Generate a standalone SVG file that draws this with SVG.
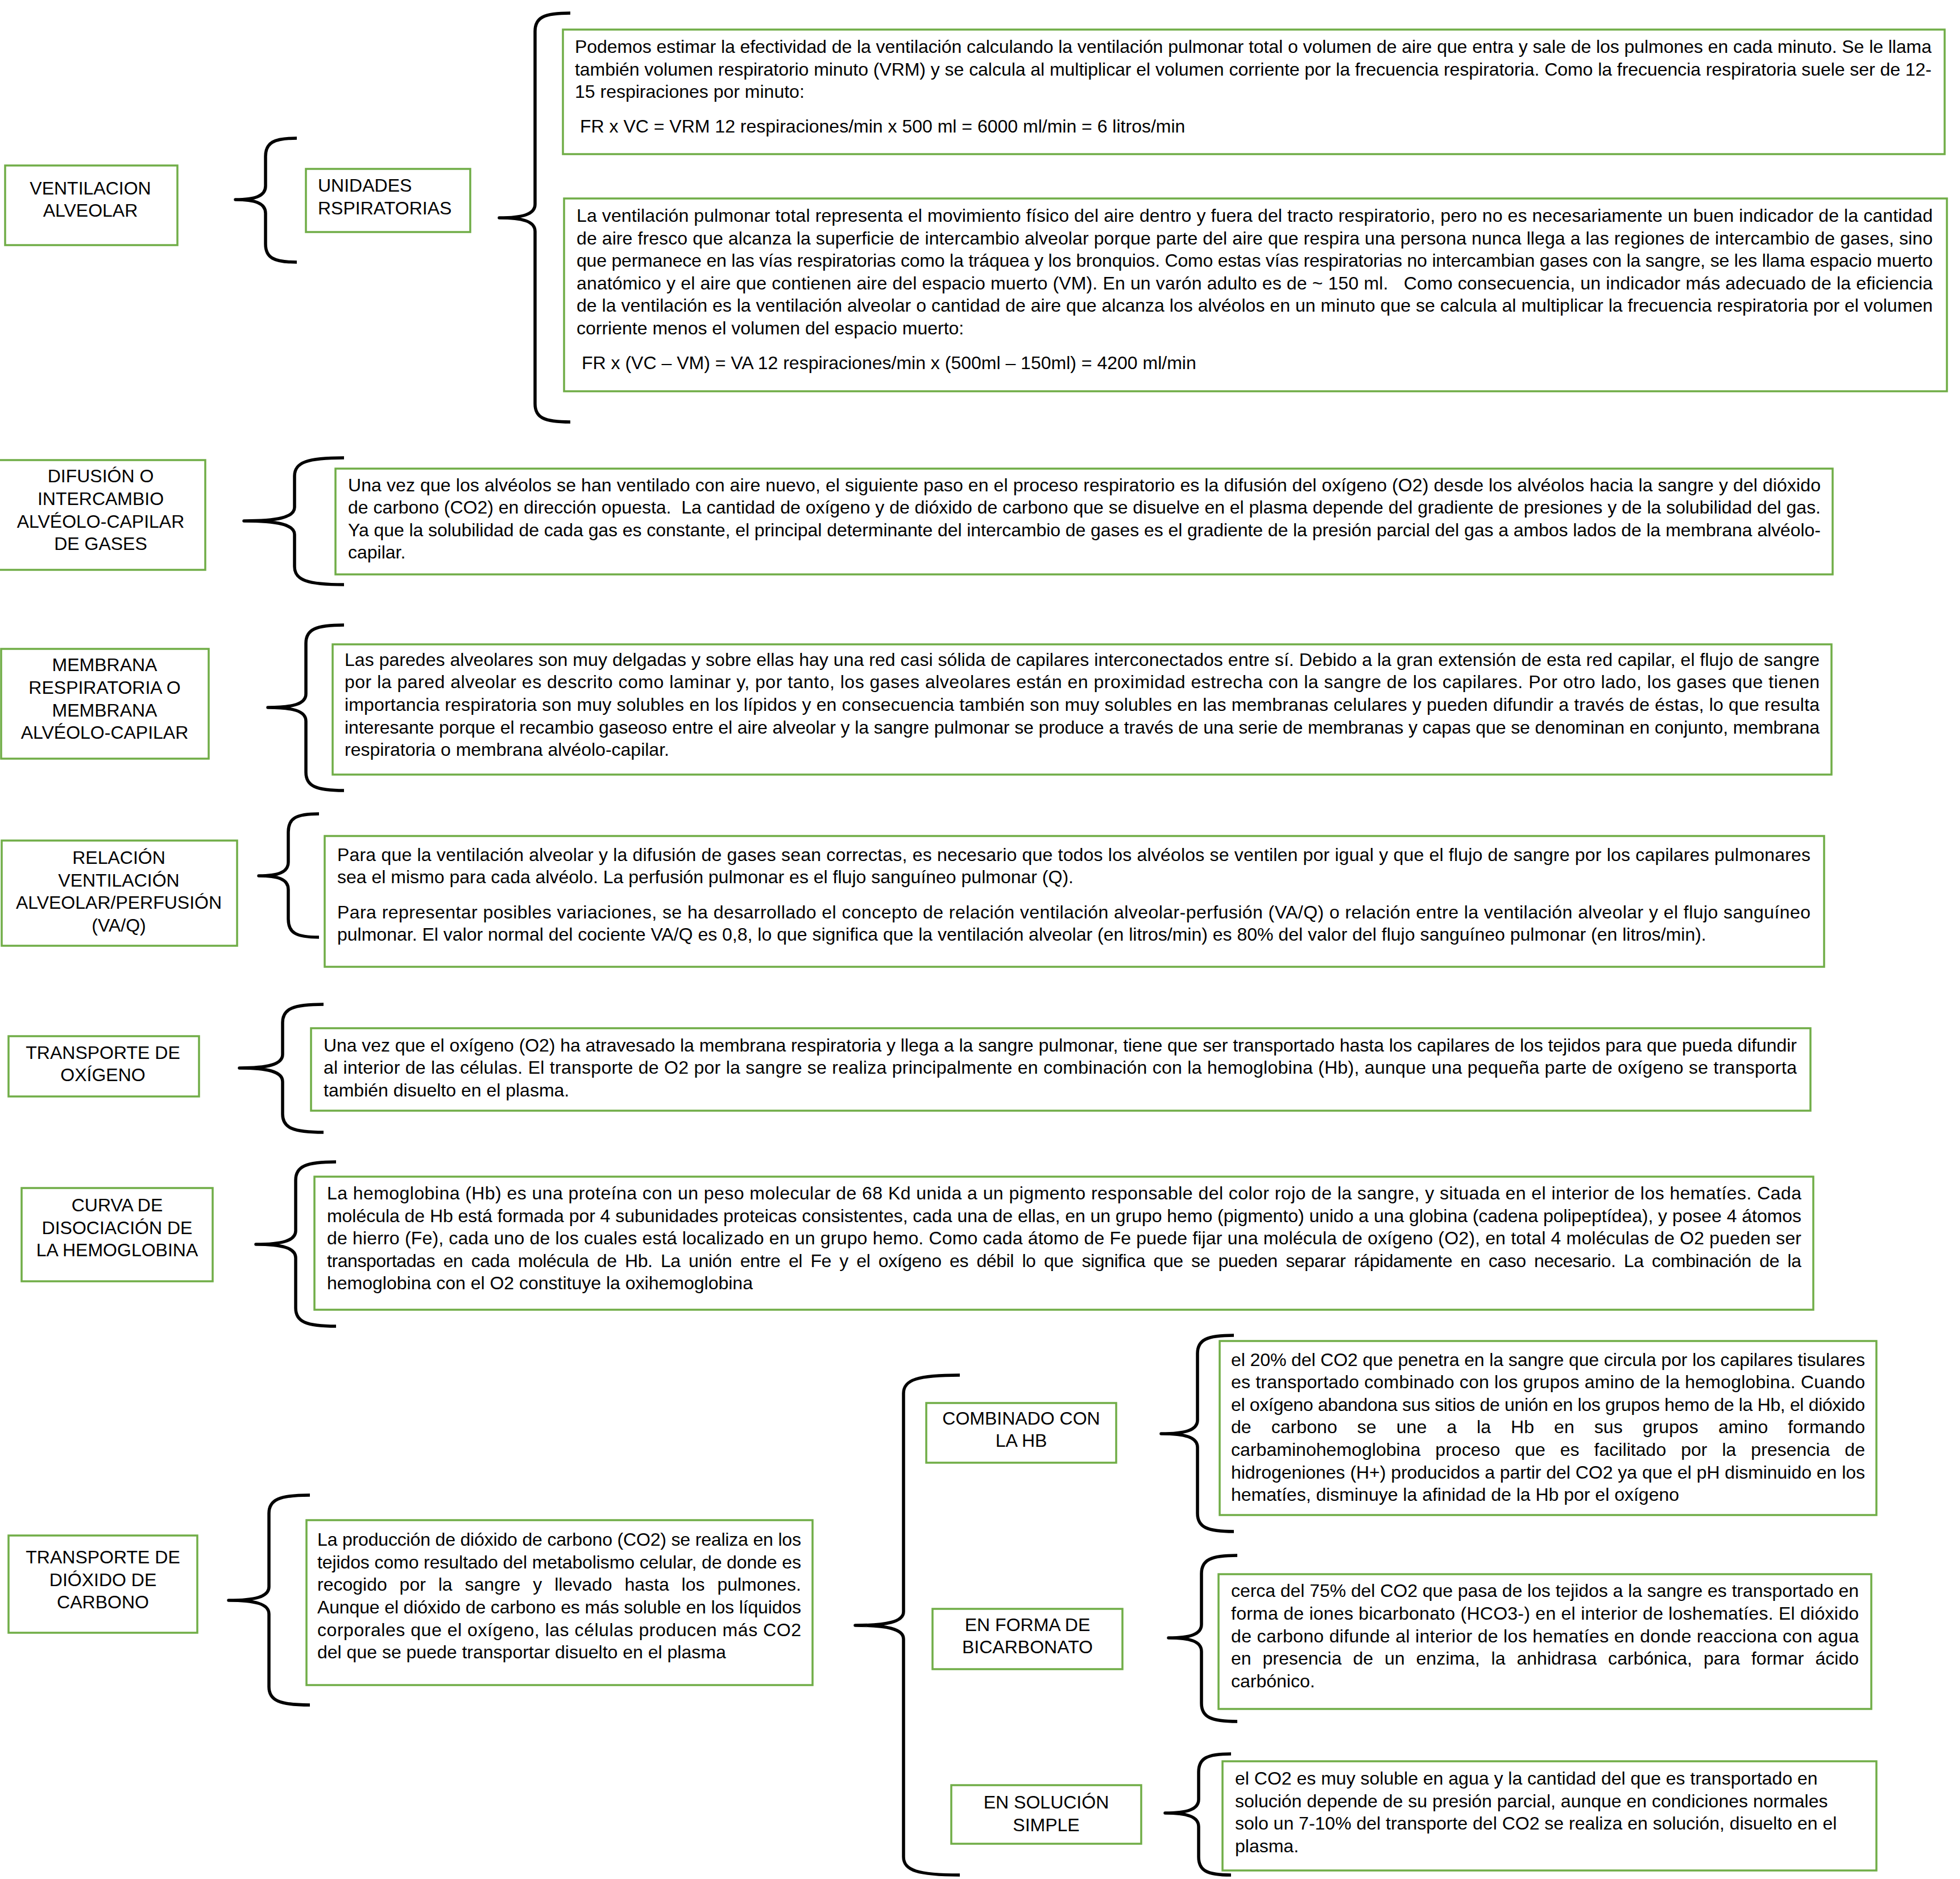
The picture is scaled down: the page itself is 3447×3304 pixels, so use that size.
<svg xmlns="http://www.w3.org/2000/svg" width="3447" height="3304" viewBox="0 0 3447 3304">
<style>
.bg{fill:#ffffff}
.box{fill:#ffffff;stroke:#70AD47;stroke-width:3.5}
.t{font-family:"Liberation Sans",Arial,Helvetica,sans-serif;font-size:32px;fill:#000000}
.c{text-anchor:middle}
.brace{fill:none;stroke:#000000;stroke-width:5.5;stroke-linecap:butt;stroke-linejoin:round}
</style>
<rect class="bg" x="0" y="0" width="3447" height="3304"/>

<g id="connectors">
<path class="brace" d="M522,243 C481,243 467,251 467,275 L467,327 C467,345 448,351 414,351 C448,351 467,357 467,375 L467,429 C467,453 481,461 522,461"/>
<path class="brace" d="M1003,23 C956,23 941,31 941,55 L941,359 C941,377 919,383 878,383 C919,383 941,389 941,407 L941,710 C941,734 956,742 1003,742"/>
<path class="brace" d="M605,805 C540,805 518,813 518,837 L518,892 C518,910 487,916 429,916 C487,916 518,922 518,940 L518,996 C518,1020 540,1028 605,1028"/>
<path class="brace" d="M605,1099 C555,1099 538,1107 538,1131 L538,1220 C538,1238 515,1244 471,1244 C515,1244 538,1250 538,1268 L538,1358 C538,1382 555,1390 605,1390"/>
<path class="brace" d="M561,1431 C520,1431 507,1439 507,1463 L507,1516 C507,1534 489,1540 455,1540 C489,1540 507,1546 507,1564 L507,1616 C507,1640 520,1648 561,1648"/>
<path class="brace" d="M569,1766 C515,1766 497,1774 497,1798 L497,1854 C497,1872 470,1878 421,1878 C470,1878 497,1884 497,1902 L497,1959 C497,1983 515,1991 569,1991"/>
<path class="brace" d="M591,2043 C538,2043 520,2051 520,2075 L520,2164 C520,2182 495,2188 450,2188 C495,2188 520,2194 520,2212 L520,2300 C520,2324 538,2332 591,2332"/>
<path class="brace" d="M545,2629 C491,2629 473,2637 473,2661 L473,2790 C473,2808 448,2814 402,2814 C448,2814 473,2820 473,2838 L473,2966 C473,2990 491,2998 545,2998"/>
<path class="brace" d="M1688,2418 C1614,2418 1589,2426 1589,2450 L1589,2834 C1589,2852 1559,2858 1504,2858 C1559,2858 1589,2864 1589,2882 L1589,3265 C1589,3289 1614,3297 1688,3297"/>
<path class="brace" d="M2170,2348 C2122,2348 2106,2356 2106,2380 L2106,2497 C2106,2515 2084,2521 2042,2521 C2084,2521 2106,2527 2106,2545 L2106,2661 C2106,2685 2122,2693 2170,2693"/>
<path class="brace" d="M2176,2735 C2129,2735 2113,2743 2113,2767 L2113,2856 C2113,2874 2093,2880 2055,2880 C2093,2880 2113,2886 2113,2904 L2113,2995 C2113,3019 2129,3027 2176,3027"/>
<path class="brace" d="M2165,3084 C2122,3084 2108,3092 2108,3116 L2108,3164 C2108,3182 2087,3188 2049,3188 C2087,3188 2108,3194 2108,3212 L2108,3265 C2108,3289 2122,3297 2165,3297"/>
</g>

<g id="ventilacion-alveolar">
<rect class="box" x="9" y="291" width="303" height="140"/>
<text class="t c" x="159" y="342">VENTILACION</text>
<text class="t c" x="159" y="381">ALVEOLAR</text>
</g>

<g id="unidades-respiratorias">
<rect class="box" x="538" y="297" width="289" height="111"/>
<text class="t" x="559" y="337">UNIDADES</text>
<text class="t" x="559" y="377">RSPIRATORIAS</text>
</g>

<g id="texto-vrm">
<rect class="box" x="990" y="52" width="2430" height="219"/>
<text class="t" x="1011" y="93" textLength="2386" lengthAdjust="spacing">Podemos estimar la efectividad de la ventilación calculando la ventilación pulmonar total o volumen de aire que entra y sale de los pulmones en cada minuto. Se le llama</text>
<text class="t" x="1011" y="133" textLength="2386" lengthAdjust="spacing">también volumen respiratorio minuto (VRM) y se calcula al multiplicar el volumen corriente por la frecuencia respiratoria. Como la frecuencia respiratoria suele ser de 12-</text>
<text class="t" x="1011" y="172">15 respiraciones por minuto:</text>
<text class="t" x="1020" y="233">FR x VC = VRM 12 respiraciones/min x 500 ml = 6000 ml/min = 6 litros/min</text>
</g>

<g id="texto-va">
<rect class="box" x="992" y="349" width="2432" height="339"/>
<text class="t" x="1014" y="390" textLength="2385" lengthAdjust="spacing">La ventilación pulmonar total representa el movimiento físico del aire dentro y fuera del tracto respiratorio, pero no es necesariamente un buen indicador de la cantidad</text>
<text class="t" x="1014" y="430" textLength="2385" lengthAdjust="spacing">de aire fresco que alcanza la superficie de intercambio alveolar porque parte del aire que respira una persona nunca llega a las regiones de intercambio de gases, sino</text>
<text class="t" x="1014" y="469" textLength="2385" lengthAdjust="spacing">que permanece en las vías respiratorias como la tráquea y los bronquios. Como estas vías respiratorias no intercambian gases con la sangre, se les llama espacio muerto</text>
<text class="t" x="1014" y="509" textLength="2385" lengthAdjust="spacing" xml:space="preserve">anatómico y el aire que contienen aire del espacio muerto (VM). En un varón adulto es de ~ 150 ml.   Como consecuencia, un indicador más adecuado de la eficiencia</text>
<text class="t" x="1014" y="548" textLength="2385" lengthAdjust="spacing">de la ventilación es la ventilación alveolar o cantidad de aire que alcanza los alvéolos en un minuto que se calcula al multiplicar la frecuencia respiratoria por el volumen</text>
<text class="t" x="1014" y="588">corriente menos el volumen del espacio muerto:</text>
<text class="t" x="1023" y="649">FR x (VC – VM) = VA 12 respiraciones/min x (500ml – 150ml) = 4200 ml/min</text>
</g>

<g id="difusion">
<rect class="box" x="-4" y="809" width="365" height="193"/>
<text class="t c" x="177" y="848">DIFUSIÓN O</text>
<text class="t c" x="177" y="888">INTERCAMBIO</text>
<text class="t c" x="177" y="928">ALVÉOLO-CAPILAR</text>
<text class="t c" x="177" y="967">DE GASES</text>
</g>

<g id="texto-difusion">
<rect class="box" x="590" y="824" width="2633" height="186"/>
<text class="t" x="612" y="864" textLength="2590" lengthAdjust="spacing">Una vez que los alvéolos se han ventilado con aire nuevo, el siguiente paso en el proceso respiratorio es la difusión del oxígeno (O2) desde los alvéolos hacia la sangre y del dióxido</text>
<text class="t" x="612" y="903" textLength="2590" lengthAdjust="spacing" xml:space="preserve">de carbono (CO2) en dirección opuesta.  La cantidad de oxígeno y de dióxido de carbono que se disuelve en el plasma depende del gradiente de presiones y de la solubilidad del gas.</text>
<text class="t" x="612" y="943" textLength="2590" lengthAdjust="spacing">Ya que la solubilidad de cada gas es constante, el principal determinante del intercambio de gases es el gradiente de la presión parcial del gas a ambos lados de la membrana alvéolo-</text>
<text class="t" x="612" y="982">capilar.</text>
</g>

<g id="membrana">
<rect class="box" x="2" y="1141" width="365" height="193"/>
<text class="t c" x="184" y="1180">MEMBRANA</text>
<text class="t c" x="184" y="1220">RESPIRATORIA O</text>
<text class="t c" x="184" y="1260">MEMBRANA</text>
<text class="t c" x="184" y="1299">ALVÉOLO-CAPILAR</text>
</g>

<g id="texto-membrana">
<rect class="box" x="585" y="1133" width="2636" height="229"/>
<text class="t" x="606" y="1171" textLength="2594" lengthAdjust="spacing">Las paredes alveolares son muy delgadas y sobre ellas hay una red casi sólida de capilares interconectados entre sí. Debido a la gran extensión de esta red capilar, el flujo de sangre</text>
<text class="t" x="606" y="1210" textLength="2594" lengthAdjust="spacing">por la pared alveolar es descrito como laminar y, por tanto, los gases alveolares están en proximidad estrecha con la sangre de los capilares. Por otro lado, los gases que tienen</text>
<text class="t" x="606" y="1250" textLength="2594" lengthAdjust="spacing">importancia respiratoria son muy solubles en los lípidos y en consecuencia también son muy solubles en las membranas celulares y pueden difundir a través de éstas, lo que resulta</text>
<text class="t" x="606" y="1290" textLength="2594" lengthAdjust="spacing">interesante porque el recambio gaseoso entre el aire alveolar y la sangre pulmonar se produce a través de una serie de membranas y capas que se denominan en conjunto, membrana</text>
<text class="t" x="606" y="1329">respiratoria o membrana alvéolo-capilar.</text>
</g>

<g id="relacion-vaq">
<rect class="box" x="3" y="1478" width="414" height="185"/>
<text class="t c" x="209" y="1519">RELACIÓN</text>
<text class="t c" x="209" y="1559">VENTILACIÓN</text>
<text class="t c" x="209" y="1598">ALVEOLAR/PERFUSIÓN</text>
<text class="t c" x="209" y="1638">(VA/Q)</text>
</g>

<g id="texto-relacion">
<rect class="box" x="571" y="1470" width="2637" height="230"/>
<text class="t" x="593" y="1514" textLength="2591" lengthAdjust="spacing">Para que la ventilación alveolar y la difusión de gases sean correctas, es necesario que todos los alvéolos se ventilen por igual y que el flujo de sangre por los capilares pulmonares</text>
<text class="t" x="593" y="1553">sea el mismo para cada alvéolo. La perfusión pulmonar es el flujo sanguíneo pulmonar (Q).</text>
<text class="t" x="593" y="1615" textLength="2591" lengthAdjust="spacing">Para representar posibles variaciones, se ha desarrollado el concepto de relación ventilación alveolar-perfusión (VA/Q) o relación entre la ventilación alveolar y el flujo sanguíneo</text>
<text class="t" x="593" y="1654">pulmonar. El valor normal del cociente VA/Q es 0,8, lo que significa que la ventilación alveolar (en litros/min) es 80% del valor del flujo sanguíneo pulmonar (en litros/min).</text>
</g>

<g id="transporte-oxigeno">
<rect class="box" x="15" y="1822" width="335" height="106"/>
<text class="t c" x="181" y="1862">TRANSPORTE DE</text>
<text class="t c" x="181" y="1901">OXÍGENO</text>
</g>

<g id="texto-oxigeno">
<rect class="box" x="547" y="1808" width="2637" height="145"/>
<text class="t" x="569" y="1849" textLength="2591" lengthAdjust="spacing">Una vez que el oxígeno (O2) ha atravesado la membrana respiratoria y llega a la sangre pulmonar, tiene que ser transportado hasta los capilares de los tejidos para que pueda difundir</text>
<text class="t" x="569" y="1888" textLength="2591" lengthAdjust="spacing">al interior de las células. El transporte de O2 por la sangre se realiza principalmente en combinación con la hemoglobina (Hb), aunque una pequeña parte de oxígeno se transporta</text>
<text class="t" x="569" y="1928">también disuelto en el plasma.</text>
</g>

<g id="curva-disociacion">
<rect class="box" x="38" y="2089" width="336" height="164"/>
<text class="t c" x="206" y="2130">CURVA DE</text>
<text class="t c" x="206" y="2170">DISOCIACIÓN DE</text>
<text class="t c" x="206" y="2209">LA HEMOGLOBINA</text>
</g>

<g id="texto-hemoglobina">
<rect class="box" x="553" y="2069" width="2636" height="234"/>
<text class="t" x="575" y="2109" textLength="2593" lengthAdjust="spacing">La hemoglobina (Hb) es una proteína con un peso molecular de 68 Kd unida a un pigmento responsable del color rojo de la sangre, y situada en el interior de los hematíes. Cada</text>
<text class="t" x="575" y="2149" textLength="2593" lengthAdjust="spacing">molécula de Hb está formada por 4 subunidades proteicas consistentes, cada una de ellas, en un grupo hemo (pigmento) unido a una globina (cadena polipeptídea), y posee 4 átomos</text>
<text class="t" x="575" y="2188" textLength="2593" lengthAdjust="spacing">de hierro (Fe), cada uno de los cuales está localizado en un grupo hemo. Como cada átomo de Fe puede fijar una molécula de oxígeno (O2), en total 4 moléculas de O2 pueden ser</text>
<text class="t" x="575" y="2228" textLength="2593" lengthAdjust="spacing" word-spacing="6">transportadas en cada molécula de Hb. La unión entre el Fe y el oxígeno es débil lo que significa que se pueden separar rápidamente en caso necesario. La combinación de la</text>
<text class="t" x="575" y="2267">hemoglobina con el O2 constituye la oxihemoglobina</text>
</g>

<g id="transporte-co2">
<rect class="box" x="15" y="2700" width="332" height="171"/>
<text class="t c" x="181" y="2749">TRANSPORTE DE</text>
<text class="t c" x="181" y="2789">DIÓXIDO DE</text>
<text class="t c" x="181" y="2828">CARBONO</text>
</g>

<g id="texto-co2">
<rect class="box" x="539" y="2673" width="890" height="290"/>
<text class="t" x="558" y="2718" textLength="851" lengthAdjust="spacing">La producción de dióxido de carbono (CO2) se realiza en los</text>
<text class="t" x="558" y="2758" textLength="851" lengthAdjust="spacing">tejidos como resultado del metabolismo celular, de donde es</text>
<text class="t" x="558" y="2797" textLength="851" lengthAdjust="spacing" word-spacing="13">recogido por la sangre y llevado hasta los pulmones.</text>
<text class="t" x="558" y="2837" textLength="851" lengthAdjust="spacing">Aunque el dióxido de carbono es más soluble en los líquidos</text>
<text class="t" x="558" y="2877" textLength="851" lengthAdjust="spacing">corporales que el oxígeno, las células producen más CO2</text>
<text class="t" x="558" y="2916">del que se puede transportar disuelto en el plasma</text>
</g>

<g id="combinado-hb">
<rect class="box" x="1629" y="2467" width="334" height="105"/>
<text class="t c" x="1796" y="2505">COMBINADO CON</text>
<text class="t c" x="1796" y="2544">LA HB</text>
</g>

<g id="texto-combinado">
<rect class="box" x="2145" y="2358" width="1155" height="306"/>
<text class="t" x="2165" y="2402" textLength="1115" lengthAdjust="spacing">el 20% del CO2 que penetra en la sangre que circula por los capilares tisulares</text>
<text class="t" x="2165" y="2441" textLength="1115" lengthAdjust="spacing">es transportado combinado con los grupos amino de la hemoglobina. Cuando</text>
<text class="t" x="2165" y="2481" textLength="1115" lengthAdjust="spacing">el oxígeno abandona sus sitios de unión en los grupos hemo de la Hb, el dióxido</text>
<text class="t" x="2165" y="2520" textLength="1115" lengthAdjust="spacing" word-spacing="26">de carbono se une a la Hb en sus grupos amino formando</text>
<text class="t" x="2165" y="2560" textLength="1115" lengthAdjust="spacing" word-spacing="17">carbaminohemoglobina proceso que es facilitado por la presencia de</text>
<text class="t" x="2165" y="2600" textLength="1115" lengthAdjust="spacing">hidrogeniones (H+) producidos a partir del CO2 ya que el pH disminuido en los</text>
<text class="t" x="2165" y="2639">hematíes, disminuye la afinidad de la Hb por el oxígeno</text>
</g>

<g id="bicarbonato">
<rect class="box" x="1640" y="2829" width="334" height="106"/>
<text class="t c" x="1807" y="2868">EN FORMA DE</text>
<text class="t c" x="1807" y="2907">BICARBONATO</text>
</g>

<g id="texto-bicarbonato">
<rect class="box" x="2143" y="2768" width="1148" height="237"/>
<text class="t" x="2165" y="2808" textLength="1104" lengthAdjust="spacing">cerca del 75% del CO2 que pasa de los tejidos a la sangre es transportado en</text>
<text class="t" x="2165" y="2848" textLength="1104" lengthAdjust="spacing">forma de iones bicarbonato (HCO3-) en el interior de loshematíes. El dióxido</text>
<text class="t" x="2165" y="2888" textLength="1104" lengthAdjust="spacing">de carbono difunde al interior de los hematíes en donde reacciona con agua</text>
<text class="t" x="2165" y="2927" textLength="1104" lengthAdjust="spacing" word-spacing="11">en presencia de un enzima, la anhidrasa carbónica, para formar ácido</text>
<text class="t" x="2165" y="2967">carbónico.</text>
</g>

<g id="solucion-simple">
<rect class="box" x="1673" y="3139" width="334" height="103"/>
<text class="t c" x="1840" y="3180">EN SOLUCIÓN</text>
<text class="t c" x="1840" y="3220">SIMPLE</text>
</g>

<g id="texto-solucion">
<rect class="box" x="2150" y="3097" width="1150" height="192"/>
<text class="t" x="2172" y="3138">el CO2 es muy soluble en agua y la cantidad del que es transportado en</text>
<text class="t" x="2172" y="3178">solución depende de su presión parcial, aunque en condiciones normales</text>
<text class="t" x="2172" y="3217">solo un 7-10% del transporte del CO2 se realiza en solución, disuelto en el</text>
<text class="t" x="2172" y="3257">plasma.</text>
</g>
</svg>
